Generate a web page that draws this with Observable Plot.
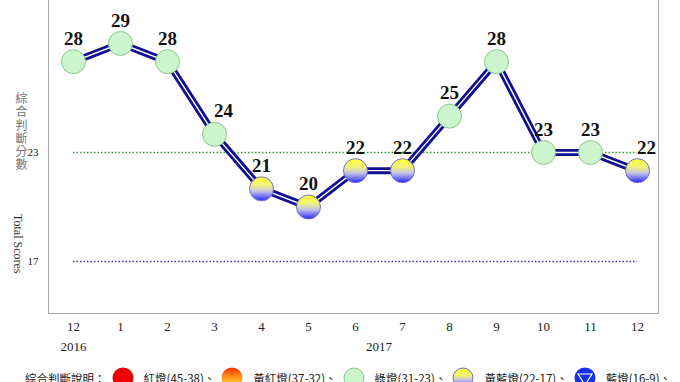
<!DOCTYPE html>
<html>
<head>
<meta charset="utf-8">
<script src="https://cdn.jsdelivr.net/npm/d3@7"></script>
<script src="https://cdn.jsdelivr.net/npm/@observablehq/plot@0.6"></script>
<style>
  body { margin: 0; background: white; }
  #legend { display: flex; align-items: center; height: 22px; margin-top: 7px; padding-left: 25px;
    font-family: "Noto Sans CJK TC", sans-serif; font-size: 11.5px; color: #222; white-space: nowrap; }
  #legend .ic { width: 22px; height: 22px; margin: 0 10px 0 6px; flex: none; }
</style>
</head>
<body>
<div id="chart"></div>
<div id="legend"></div>
<script>
const months = ["12","1","2","3","4","5","6","7","8","9","10","11","12"];
const scores = [28, 29, 28, 24, 21, 20, 22, 22, 25, 28, 23, 23, 22];
const years = ["2016", "2017"];
const yearAt = [0, 6.5];
const refLines = [23, 17];
const legendTitle = "綜合判斷說明：";
const legendNames = ["紅燈(45-38)、", "黃紅燈(37-32)、", "綠燈(31-23)、", "黃藍燈(22-17)、", "藍燈(16-9)、"];

const data = scores.map((s, i) => ({i, score: s}));
const green = data.filter(d => d.score >= 23);
const yb = data.filter(d => d.score <= 22);
const shifted = [3, 12];

const serif = "'Liberation Serif', 'Times New Roman', serif";

const chart = Plot.plot({
  width: 680, height: 360,
  marginLeft: 48, marginRight: 22, marginTop: 0, marginBottom: 47,
  x: {domain: [0, 12], range: [73, 637]},
  y: {domain: [17, 23], range: [261, 152]},
  style: {fontFamily: serif, background: "white", color: "#222", overflow: "visible"},
  marks: [
    Plot.frame({anchor: "left", stroke: "#aaa"}),
    Plot.frame({anchor: "right", stroke: "#aaa"}),
    Plot.frame({anchor: "bottom", stroke: "#aaa"}),
    Plot.ruleY([refLines[0]], {x1: 0, x2: 12, stroke: "#2f9a2f", strokeWidth: 1.5, strokeDasharray: "1.5,2"}),
    Plot.ruleY([refLines[1]], {x1: 0, x2: 12, stroke: "#3535d0", strokeWidth: 1.5, strokeDasharray: "1.5,2"}),
    Plot.line(data, {x: "i", y: "score", stroke: "#101090", strokeWidth: 7}),
    Plot.line(data, {x: "i", y: "score", stroke: "white", strokeWidth: 1.4}),
    Plot.dot(green, {x: "i", y: "score", r: 12, fill: "#cdf5cd", stroke: "#86c886", strokeWidth: 1}),
    Plot.dot(yb, {x: "i", y: "score", r: 12, fill: "url(#ybGrad)", stroke: "#7070c8", strokeWidth: 1}),
    Plot.text(data.filter(d => !shifted.includes(d.i)), {x: "i", y: "score", text: d => String(d.score), dy: -23,
      fontSize: 19, fontWeight: "bold", fill: "#111"}),
    Plot.text(data.filter(d => shifted.includes(d.i)), {x: "i", y: "score", text: d => String(d.score), dy: -23, dx: 9,
      fontSize: 19, fontWeight: "bold", fill: "#111"}),
    Plot.axisX({ticks: d3.range(13), tickFormat: i => months[i], tickSize: 0, tickPadding: 8, fontSize: 13, label: null}),
    Plot.axisY({ticks: refLines, tickFormat: d => String(d), tickSize: 0, tickPadding: 10, fontSize: 11, label: null}),
    Plot.text(years, {x: (d, k) => yearAt[k], frameAnchor: "bottom", dy: 37, fontSize: 13}),
    Plot.text(["綜\n合\n判\n斷\n分\n數"], {frameAnchor: "left", dx: -33, dy: -25, fontSize: 12, lineHeight: 1.1,
      fill: "#777", fontFamily: "'Noto Sans CJK TC', sans-serif"}),
    Plot.text(["Total Scores"], {frameAnchor: "left", dx: -31, dy: 57, rotate: 90, fontSize: 12, fill: "#333"})
  ]
});

d3.select(chart).insert("defs", ":first-child").html(`
  <linearGradient id="ybGrad" x1="0" y1="0" x2="0" y2="1">
    <stop offset="0" stop-color="#ffff30"/>
    <stop offset="0.35" stop-color="#f2f27a"/>
    <stop offset="0.6" stop-color="#c4c4e6"/>
    <stop offset="1" stop-color="#2828ff"/>
  </linearGradient>`);
document.getElementById("chart").append(chart);

// legend
const icons = [
  `<svg class="ic" viewBox="0 0 22 22"><circle cx="11" cy="11" r="10.5" fill="#f00000"/></svg>`,
  `<svg class="ic" viewBox="0 0 22 22"><defs><linearGradient id="lo" x1="0" y1="0" x2="0" y2="1"><stop offset="0" stop-color="#ff3000"/><stop offset="0.5" stop-color="#ff9a20"/><stop offset="1" stop-color="#ffee30"/></linearGradient></defs><circle cx="11" cy="11" r="10.5" fill="url(#lo)"/></svg>`,
  `<svg class="ic" viewBox="0 0 22 22"><circle cx="11" cy="11" r="10" fill="#cdf5cd" stroke="#86c886"/></svg>`,
  `<svg class="ic" viewBox="0 0 22 22"><defs><linearGradient id="lyb" x1="0" y1="0" x2="0" y2="1"><stop offset="0" stop-color="#ffff30"/><stop offset="0.4" stop-color="#f0f07a"/><stop offset="0.6" stop-color="#c4c4e6"/><stop offset="1" stop-color="#2828ff"/></linearGradient></defs><circle cx="11" cy="11" r="10" fill="url(#lyb)" stroke="#7070c8"/></svg>`,
  `<svg class="ic" viewBox="0 0 22 22"><circle cx="11" cy="11" r="10.5" fill="#1530e8"/><path d="M4,7 L18,7 L11,18 Z" fill="none" stroke="white" stroke-width="1.2"/></svg>`
];
const lg = document.getElementById("legend");
let html = `<span>${legendTitle}</span>`;
legendNames.forEach((n, k) => { html += icons[k] + `<span>${n}</span>`; });
lg.innerHTML = html;
</script>
</body>
</html>
